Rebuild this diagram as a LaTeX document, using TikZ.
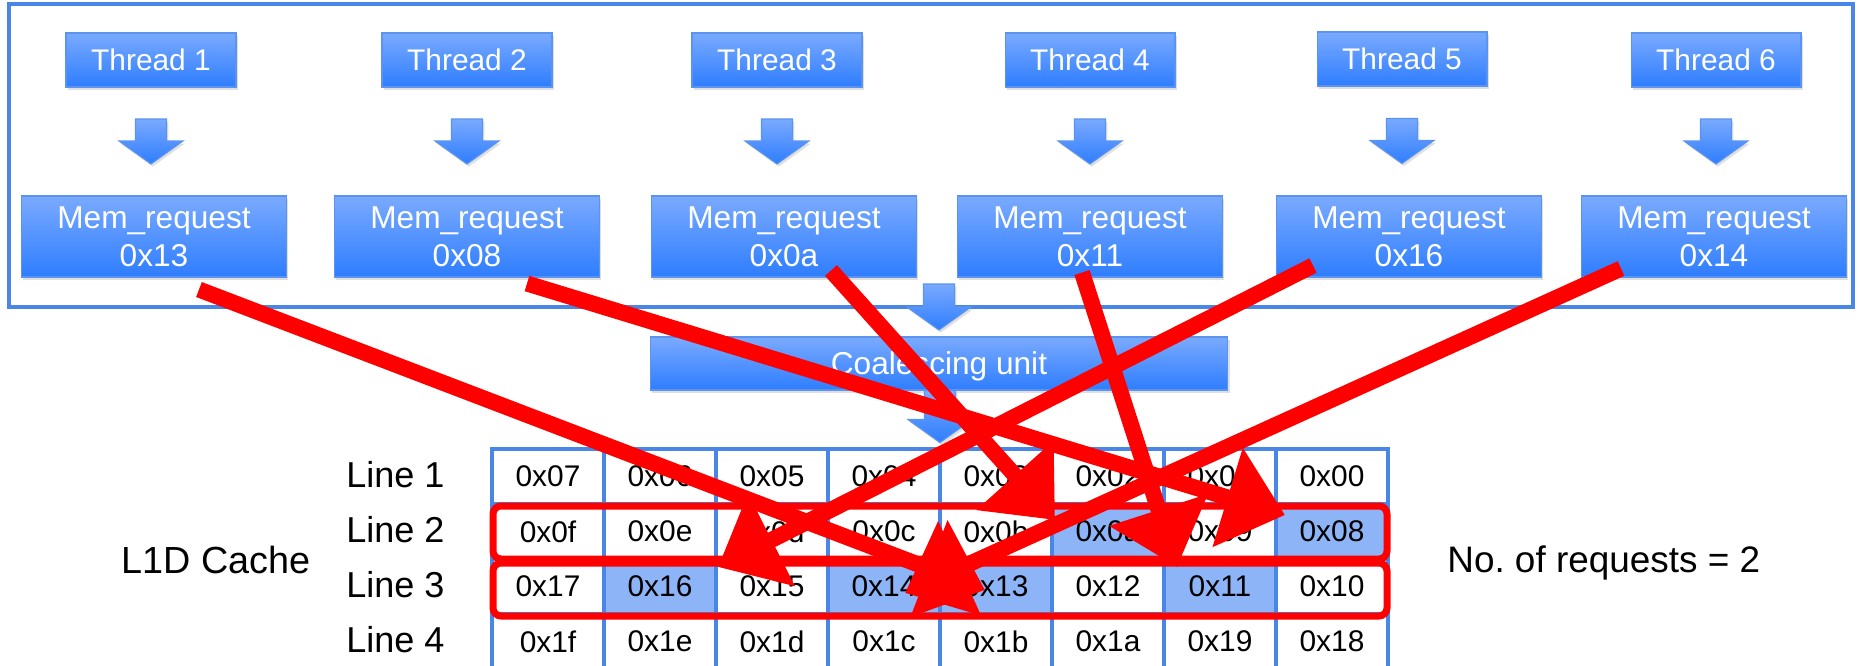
\documentclass[tikz,border=0pt]{standalone}
\usepackage{fontspec}
\setmainfont{Liberation Sans}
\usetikzlibrary{arrows.meta, positioning, calc, shadows}
\frenchspacing

\definecolor{frameblue}{RGB}{74,134,232}
\definecolor{boxtop}{RGB}{122,170,255}
\definecolor{boxbot}{RGB}{46,125,255}
\definecolor{boxedge}{RGB}{90,148,240}
\definecolor{hitblue}{RGB}{141,180,247}

\tikzset{
	blockfill/.style={draw=boxedge, line width=0.6pt, top color=boxtop, bottom color=boxbot, text=white,
		drop shadow={shadow xshift=1pt, shadow yshift=-1.5pt, opacity=0.25}},
	thread/.style={blockfill, minimum width=3.4cm, minimum height=1.08cm, inner sep=0pt, text depth=0pt,
		font=\fontsize{17}{20}\selectfont},
	memreq/.style={blockfill, minimum width=5.3cm, minimum height=1.62cm, inner sep=0pt, align=center,
		font=\fontsize{18}{21.6}\selectfont},
	coal/.style={blockfill, minimum width=11.56cm, minimum height=1.06cm, inner sep=0pt, text depth=0pt,
		font=\fontsize{18}{21.6}\selectfont},
	% block arrow pointing down, #1 = length (px)
	pics/blockdown/.style={code={
		\path[blockfill] (-15.5,-#1/2) -- (15.5,-#1/2) -- (15.5,#1/2-23) -- (32,#1/2-23)
			-- (0,#1/2) -- (-32,#1/2-23) -- (-15.5,#1/2-23) -- cycle;
	}},
	cell/.style={draw=frameblue, line width=0.08cm, minimum width=2.24cm, minimum height=1.1cm,
		inner sep=0pt, text depth=0pt, font=\fontsize{17}{20}\selectfont},
	rowname/.style={anchor=base west, inner sep=0pt, font=\fontsize{20.5}{24}\selectfont},
	rowbox/.style={draw=red, line width=0.14cm, rounded corners=0.16cm},
	req/.style={draw=red, line width=0.32cm, -{Triangle[length=1.2cm, width=2cm]}}
}

\begin{document}
\begin{tikzpicture}[x=0.02cm, y=-0.02cm]
	\useasboundingbox (0,0) rectangle (1860,666);

	% frame round the warp
	\draw[frameblue, line width=0.08cm] (9,4) rectangle (1853,307);

	\node[thread] (t1) at (151,60) {Thread 1};
	\node[thread] (t2) at (467,60) {Thread 2};
	\node[thread] (t3) at (777,60) {Thread 3};
	\node[thread] (t4) at (1090,60) {Thread 4};
	\node[thread] (t5) at (1402,59) {Thread 5};
	\node[thread] (t6) at (1716,60) {Thread 6};

	\node[memreq] (m1) at (154,236.5) {Mem\_request\\0x13};
	\node[memreq] (m2) at (467,236.5) {Mem\_request\\0x08};
	\node[memreq] (m3) at (784,236.5) {Mem\_request\\0x0a};
	\node[memreq] (m4) at (1090,236.5) {Mem\_request\\0x11};
	\node[memreq] (m5) at (1409,236.5) {Mem\_request\\0x16};
	\node[memreq] (m6) at (1714,236.5) {Mem\_request\\0x14};

	\foreach \i in {1,...,6}
		\pic (a\i) at ($(t\i.south)!0.5!(t\i.south |- m\i.north)$) {blockdown=45};

	\node[coal] (cu) at (939,363.5) {Coalescing unit};
	\pic (fin) at ($(cu.north)!0.5!(cu.north |- m4.south)$) {blockdown=46};
	\pic (fout) at ($(cu.south)+(1,26)$) {blockdown=52};

	% L1D lines, highlighted = touched by the warp
	\foreach \row [count=\r] in {
		{07/white,06/white,05/white,04/white,03/white,02/white,01/white,00/white},
		{0f/white,0e/white,0d/white,0c/white,0b/white,0a/hitblue,09/white,08/hitblue},
		{17/white,16/hitblue,15/white,14/hitblue,13/hitblue,12/white,11/hitblue,10/white},
		{1f/white,1e/white,1d/white,1c/white,1b/white,1a/white,19/white,18/white}}
	{
		\foreach \v/\s [count=\c] in \row
			\node[cell, fill=\s] (cell-\r-\c) at (436+112*\c, 421.5+55*\r) {0x\v};
		\node[rowname] (line\r) at ([xshift=-2.88cm, yshift=-0.22cm]cell-\r-1.west) {Line \r};
	}

	\node[rowname, font=\fontsize{21.5}{25}\selectfont] (cache) at (121,573) {L1D Cache};
	\node[rowname, font=\fontsize{21}{25}\selectfont] (count) at (1447,572) {No. of requests = 2};

	\draw[rowbox] ([shift={(3,4)}]cell-2-1.north west) rectangle ([shift={(-3,-2)}]cell-2-8.south east);
	\draw[rowbox] ([shift={(3,6)}]cell-3-1.north west) rectangle ([shift={(-3,0)}]cell-3-8.south east);

	% where each request lands
	\draw[req] ($(m1.south)+(45,12)$) -- ($(cell-3-5)+(-11,3.5)$);
	\draw[req] ($(m2.south)+(60,6)$) -- ($(cell-2-8)+(-47,-16.5)$);
	\draw[req] ($(m3.south)+(47,-7)$) -- ($(cell-2-6)+(-53,-11.5)$);
	\draw[req] ($(m4.south)+(-8,-5)$) -- ($(cell-3-7)+(-43,-19.5)$);
	\draw[req] ($(m5.south)+(-96,-12)$) -- ($(cell-3-2)+(58,-19.5)$);
	\draw[req] ($(m6.south)+(-93,-9)$) -- ($(cell-3-4)+(21,6.5)$);
\end{tikzpicture}
\end{document}
